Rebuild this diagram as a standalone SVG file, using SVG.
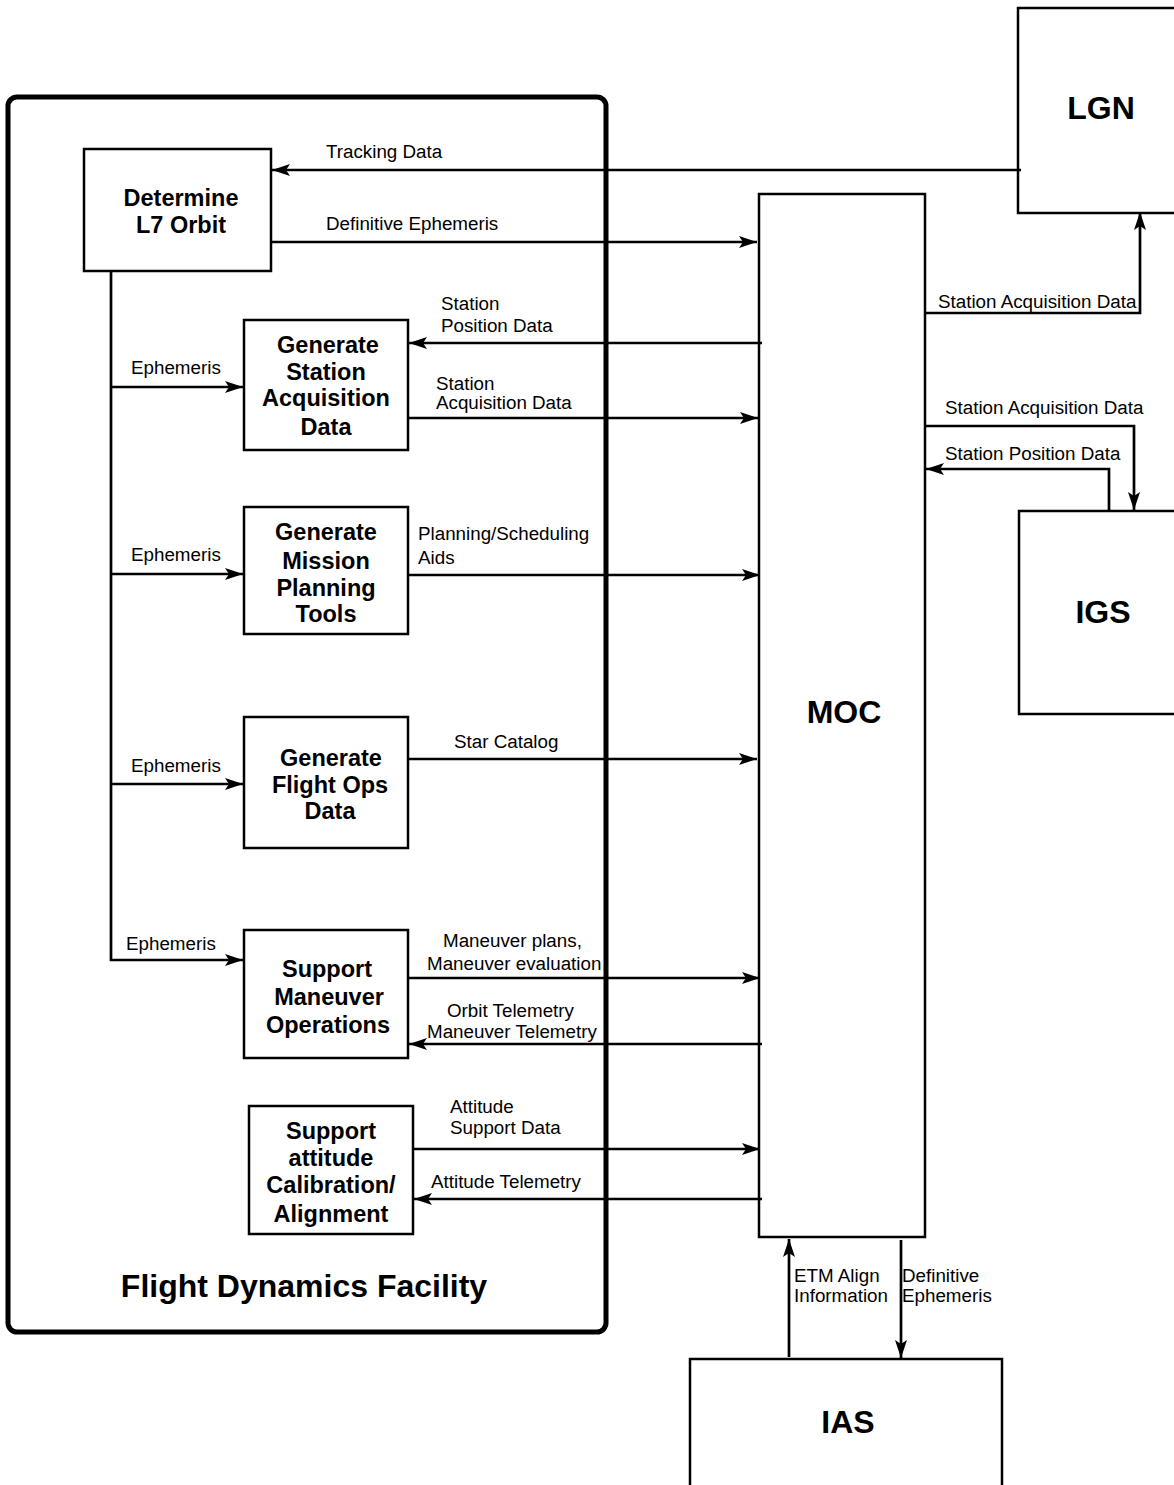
<svg xmlns="http://www.w3.org/2000/svg" width="1174" height="1485" viewBox="0 0 1174 1485">
<style>
.box{fill:#fff;stroke:#000;stroke-width:2.5}
.ext{fill:#fff;stroke:#000;stroke-width:2.5}
.frame{fill:none;stroke:#000;stroke-width:5}
.pt{font-family:"Liberation Sans",Arial,sans-serif;font-weight:bold;font-size:23.5px;text-anchor:middle}
.big{font-family:"Liberation Sans",Arial,sans-serif;font-weight:bold;font-size:32px;text-anchor:middle}
.lb{font-family:"Liberation Sans",Arial,sans-serif;font-size:18.8px}
.c{fill:none;stroke:#000;stroke-width:2.7}
</style>
<defs>
<marker id="ah" viewBox="0 0 18 12" refX="18" refY="6" markerWidth="18" markerHeight="12" markerUnits="userSpaceOnUse" orient="auto">
<path d="M0,0 L18,6 L0,12 L4,6 z" fill="#000"/>
</marker>
</defs>
<rect width="1174" height="1485" fill="#fff"/>
<g id="fdf">
<rect class="frame" x="8" y="97" width="598" height="1235" rx="9"/>
<text class="big" x="304" y="1297">Flight Dynamics Facility</text>
</g>
<g id="lgn"><rect class="ext" x="1018" y="8" width="170" height="205"/><text class="big" x="1101" y="119">LGN</text></g>
<g id="igs"><rect class="ext" x="1019" y="511" width="170" height="203"/><text class="big" x="1103" y="623">IGS</text></g>
<g id="ias"><rect class="ext" x="690" y="1359" width="312" height="140"/><text class="big" x="848" y="1433">IAS</text></g>
<g id="moc"><rect class="ext" x="759" y="194" width="166" height="1043"/><text class="big" x="844" y="723">MOC</text></g>
<g id="determine"><rect class="box" x="84" y="149" width="187" height="122"/><text class="pt" x="181" y="206">Determine</text><text class="pt" x="181" y="233">L7 Orbit</text></g>
<g id="gsad"><rect class="box" x="244" y="320" width="164" height="130"/><text class="pt" x="328" y="353">Generate</text><text class="pt" x="326" y="380">Station</text><text class="pt" x="326" y="406">Acquisition</text><text class="pt" x="326" y="435">Data</text></g>
<g id="gmpt"><rect class="box" x="244" y="507" width="164" height="127"/><text class="pt" x="326" y="540">Generate</text><text class="pt" x="326" y="569">Mission</text><text class="pt" x="326" y="596">Planning</text><text class="pt" x="326" y="622">Tools</text></g>
<g id="gfod"><rect class="box" x="244" y="717" width="164" height="131"/><text class="pt" x="331" y="766">Generate</text><text class="pt" x="330" y="793">Flight Ops</text><text class="pt" x="330" y="819">Data</text></g>
<g id="smo"><rect class="box" x="244" y="930" width="164" height="128"/><text class="pt" x="327" y="977">Support</text><text class="pt" x="329" y="1005">Maneuver</text><text class="pt" x="328" y="1033">Operations</text></g>
<g id="sac"><rect class="box" x="249" y="1106" width="164" height="128"/><text class="pt" x="331" y="1139">Support</text><text class="pt" x="331" y="1166">attitude</text><text class="pt" x="331" y="1193">Calibration/</text><text class="pt" x="331" y="1222">Alignment</text></g>
<g id="connectors">
<path class="c" d="M1021,170 H272" marker-end="url(#ah)"/>
<text class="lb" x="326" y="158">Tracking Data</text>
<path class="c" d="M271,242 H757" marker-end="url(#ah)"/>
<text class="lb" x="326" y="230">Definitive Ephemeris</text>
<path class="c" d="M111,272 V960 H243" marker-end="url(#ah)"/>
<path class="c" d="M111,387 H243" marker-end="url(#ah)"/>
<path class="c" d="M111,574 H243" marker-end="url(#ah)"/>
<path class="c" d="M111,784 H243" marker-end="url(#ah)"/>
<text class="lb" x="131" y="374">Ephemeris</text>
<text class="lb" x="131" y="561">Ephemeris</text>
<text class="lb" x="131" y="772">Ephemeris</text>
<text class="lb" x="126" y="950">Ephemeris</text>
<path class="c" d="M762,343 H409" marker-end="url(#ah)"/>
<text class="lb" x="441" y="310">Station</text><text class="lb" x="441" y="332">Position Data</text>
<path class="c" d="M408,418 H758" marker-end="url(#ah)"/>
<text class="lb" x="436" y="390">Station</text><text class="lb" x="436" y="409">Acquisition Data</text>
<path class="c" d="M408,575 H760" marker-end="url(#ah)"/>
<text class="lb" x="418" y="540">Planning/Scheduling</text><text class="lb" x="418" y="564">Aids</text>
<path class="c" d="M408,759 H757" marker-end="url(#ah)"/>
<text class="lb" x="454" y="748">Star Catalog</text>
<path class="c" d="M408,978 H760" marker-end="url(#ah)"/>
<text class="lb" x="443" y="947">Maneuver plans,</text><text class="lb" x="427" y="970">Maneuver evaluation</text>
<path class="c" d="M762,1044 H409" marker-end="url(#ah)"/>
<text class="lb" x="447" y="1017">Orbit Telemetry</text><text class="lb" x="427" y="1038">Maneuver Telemetry</text>
<path class="c" d="M413,1149 H760" marker-end="url(#ah)"/>
<text class="lb" x="450" y="1113">Attitude</text><text class="lb" x="450" y="1134">Support Data</text>
<path class="c" d="M762,1199 H414" marker-end="url(#ah)"/>
<text class="lb" x="431" y="1188">Attitude Telemetry</text>
<path class="c" d="M926,313 H1140 V212" marker-end="url(#ah)"/>
<text class="lb" x="938" y="308">Station Acquisition Data</text>
<path class="c" d="M926,426 H1134 V510" marker-end="url(#ah)"/>
<text class="lb" x="945" y="414">Station Acquisition Data</text>
<path class="c" d="M1109,511 V469 H926" marker-end="url(#ah)"/>
<text class="lb" x="945" y="460">Station Position Data</text>
<path class="c" d="M789,1357 V1239" marker-end="url(#ah)"/>
<text class="lb" x="794" y="1282">ETM Align</text><text class="lb" x="794" y="1302">Information</text>
<path class="c" d="M901,1240 V1358" marker-end="url(#ah)"/>
<text class="lb" x="902" y="1282">Definitive</text><text class="lb" x="902" y="1302">Ephemeris</text>
</g>
</svg>
